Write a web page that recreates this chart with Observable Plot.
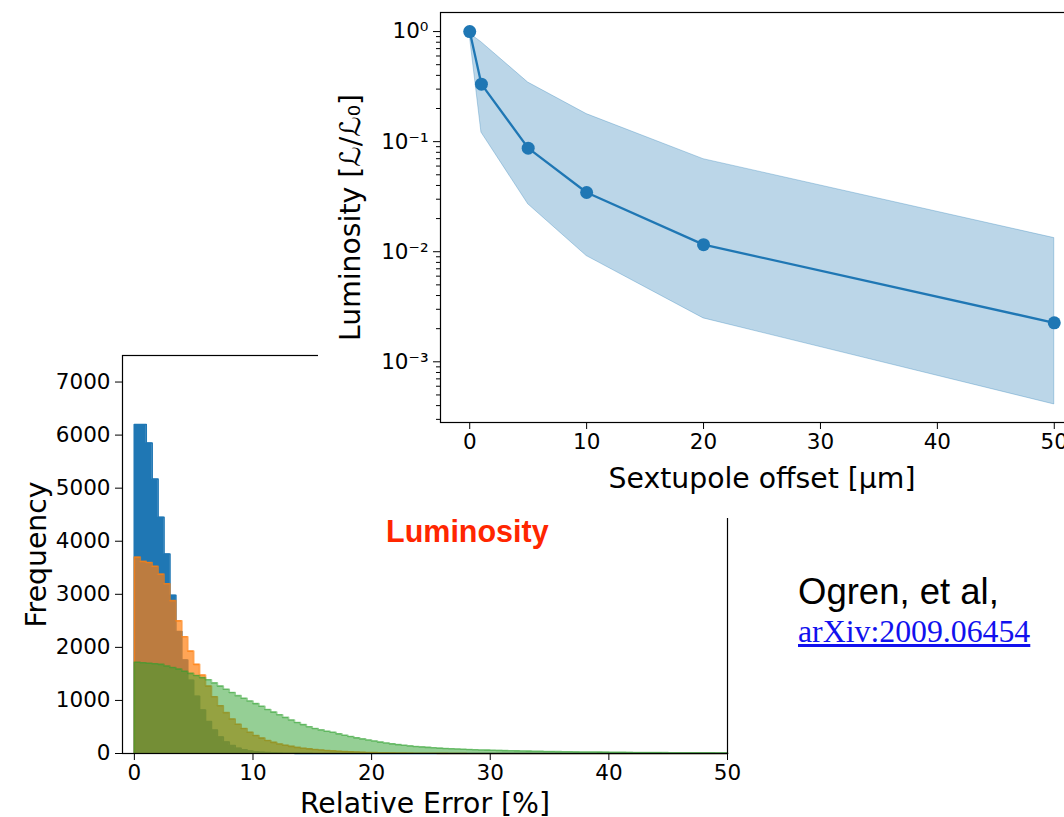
<!DOCTYPE html>
<html><head><meta charset="utf-8">
<script src="https://cdn.jsdelivr.net/npm/d3@7"></script>
<script src="https://cdn.jsdelivr.net/npm/@observablehq/plot@0.6"></script>
<style>
html,body{margin:0;padding:0;background:#fff;width:1064px;height:817px;overflow:hidden;}
#page{position:relative;width:1064px;height:817px;overflow:hidden;background:#fff;}
#hist{position:absolute;left:0;top:340px;z-index:1;}
#lumi{position:absolute;left:318px;top:0;z-index:2;}
.note{position:absolute;white-space:nowrap;line-height:1;z-index:3;}
#red{left:386px;top:514px;font:bold 30.5px "Liberation Sans",Arial,sans-serif;color:#ff2600;}
#ogren{left:798px;top:571px;font:36.5px "Liberation Sans",Arial,sans-serif;color:#000;}
#arxiv{left:798px;top:614px;font:31.8px "Liberation Serif","Times New Roman",serif;color:#1111ee;text-decoration:underline;}
svg{max-width:none !important;}
</style></head>
<body><div id="page">
<div id="hist"></div>
<div id="lumi"></div>
<div class="note" id="red">Luminosity</div>
<div class="note" id="ogren">Ogren, et al,</div>
<a class="note" id="arxiv" href="#">arXiv:2009.06454</a>
</div>
<script>
// ---------- Histogram data (relative error %, bin width 0.5) ----------
const binWidth = 0.5;
const blueCounts = [6200,6200,5850,5170,4450,3760,2980,2300,1760,1380,
 1080,820,600,440,310,215,150,100,70,48,
 33,23,16,11,8,6,4,3,2,2,
 1,1,1,1,0,0,0,0,0,0,
 0,0,0,0,0,0,0,0,0,0, 0,0,0,0,0,0,0,0,0,0, 0,0,0,0,0,0,0,0,0,0,
 0,0,0,0,0,0,0,0,0,0, 0,0,0,0,0,0,0,0,0,0, 0,0,0,0,0,0,0,0,0,0];
const orangeCounts = [3700,3620,3600,3530,3380,3200,2880,2500,2200,1930,
 1680,1480,1270,1070,900,770,650,550,470,400,
 340,290,245,210,180,155,135,115,100,88,
 76,66,57,49,42,36,31,27,23,20,
 17,15,13,11,9,8,7,6,5,4,
 4,3,3,2,2,2,1,1,1,1,
 1,1,1,1,0,0,0,0,0,0,
 0,0,0,0,0,0,0,0,0,0, 0,0,0,0,0,0,0,0,0,0, 0,0,0,0,0,0,0,0,0,0];
const greenCounts = [1720,1710,1700,1690,1680,1650,1620,1590,1550,1510,
 1470,1430,1390,1330,1270,1210,1150,1090,1040,990,
 940,890,830,780,730,680,630,585,545,505,
 470,445,420,400,370,345,320,295,275,255,
 235,215,197,182,168,155,143,133,124,116,
 108,101,95,89,84,79,75,71,67,64,
 61,58,55,52,50,47,45,43,41,39,
 37,35,33,32,30,29,28,27,26,25,
 24,23,22,21,20,19,18,18,17,16,
 15,15,14,14,13,13,12,12,11,11];
const histXTicks = [0,10,20,30,40,50];
const histYTicks = [0,1000,2000,3000,4000,5000,6000,7000];

// ---------- Luminosity vs sextupole offset ----------
const offsets = [0, 1, 5, 10, 20, 50];
const lumMean = [1.0, 0.333, 0.0873, 0.0345, 0.0116, 0.00226];
const lumLower = [0.93, 0.121, 0.027, 0.00914, 0.00248, 0.00041];
const lumUpper = [0.96, 0.80, 0.344, 0.178, 0.0693, 0.0133];
const lumXTicks = [0,10,20,30,40,50];
const lumYTicks = [0.001, 0.01, 0.1, 1];
const lumYTickLabels = ["10\u207B\u00B3","10\u207B\u00B2","10\u207B\u00B9","10\u2070"];

const C = {blue:"#1f77b4", orange:"#ff7f0e", green:"#2ca02c"};
const font = "DejaVu Sans, sans-serif";
const tickFont = 21.5, labelFont = 28.3;

function stairs(counts){
  const pts=[{x:0,y:0}];
  counts.forEach((c,i)=>pts.push({x:i*binWidth,y:c}));
  pts.push({x:counts.length*binWidth,y:counts[counts.length-1]});
  pts.push({x:counts.length*binWidth,y:0});
  return pts;
}
const series=[
  {pts:stairs(blueCounts), color:C.blue, op:1},
  {pts:stairs(orangeCounts), color:C.orange, op:0.7},
  {pts:stairs(greenCounts), color:C.green, op:0.5}
];
const histMarks=[];
for(const s of series){
  histMarks.push(Plot.areaY(s.pts,{x:"x",y:"y",curve:"step-after",fill:s.color,fillOpacity:s.op}));
  histMarks.push(Plot.line(s.pts,{x:"x",y:"y",curve:"step-after",stroke:s.color,strokeOpacity:s.op,strokeWidth:1.6}));
}
const hist=Plot.plot({
  width:740,height:477,marginLeft:122,marginRight:13,marginTop:15,marginBottom:64,
  x:{domain:[-1,50]}, y:{domain:[0,7500]},
  style:{fontFamily:font,fontSize:tickFont+"px",color:"#000",background:"transparent",overflow:"visible",maxWidth:"none"},
  marks:[
    ...histMarks,
    Plot.frame({stroke:"#000",strokeWidth:1.2}),
    Plot.axisX({ticks:histXTicks,tickSize:7,tickPadding:4,tickFormat:d3.format("d"),label:null,fontSize:tickFont}),
    Plot.axisY({ticks:histYTicks,tickSize:7,tickPadding:5,tickFormat:d3.format("d"),label:null,fontSize:tickFont}),
    Plot.text(["Frequency"],{text:d=>d,frameAnchor:"left",textAnchor:"middle",lineAnchor:"middle",dx:-86,rotate:-90,fontSize:labelFont}),
    Plot.text(["Relative Error [%]"],{text:d=>d,frameAnchor:"bottom",textAnchor:"middle",lineAnchor:"middle",dy:50.5,fontSize:labelFont})
  ]
});
document.getElementById("hist").append(hist);

const band=offsets.map((x,i)=>({x,lo:lumLower[i],hi:lumUpper[i],m:lumMean[i]}));
const minor=[];
for(const e of [-4,-3,-2,-1]) for(let k=2;k<=9;k++){const v=k*Math.pow(10,e); if(v>2.9e-4) minor.push(v);}
const lumi=Plot.plot({
  width:770,height:518,marginLeft:122,marginRight:5,marginTop:12,marginBottom:96,
  x:{domain:[-2.5,52.5]},
  y:{type:"log",domain:[2.81e-4,1.49]},
  style:{fontFamily:font,fontSize:tickFont+"px",color:"#000",background:"#fff",overflow:"hidden",maxWidth:"none"},
  marks:[
    Plot.areaY(band,{x:"x",y1:"lo",y2:"hi",fill:C.blue,fillOpacity:0.3,stroke:C.blue,strokeOpacity:0.3,strokeWidth:1}),
    Plot.line(band,{x:"x",y:"m",stroke:C.blue,strokeWidth:2.3}),
    Plot.dot(band,{x:"x",y:"m",r:6.5,fill:C.blue,stroke:"none"}),
    Plot.frame({stroke:"#000",strokeWidth:1.2}),
    Plot.axisX({ticks:lumXTicks,tickSize:7,tickPadding:4,tickFormat:d3.format("d"),label:null,fontSize:tickFont}),
    Plot.axisY({ticks:lumYTicks,tickSize:7,tickPadding:5,tickFormat:d=>lumYTickLabels[lumYTicks.indexOf(d)],label:null,fontSize:tickFont}),
    Plot.axisY({ticks:minor,tickSize:4,tickFormat:()=>"",label:null}),
    Plot.text(["Sextupole offset [\u03BCm]"],{text:d=>d,frameAnchor:"bottom",textAnchor:"middle",lineAnchor:"middle",dy:56,fontSize:labelFont}),
    Plot.text(["Luminosity [\u2112/\u2112\u2080]"],{text:d=>d,frameAnchor:"left",textAnchor:"middle",lineAnchor:"middle",dx:-90,rotate:-90,fontSize:labelFont})
  ]
});
document.getElementById("lumi").append(lumi);
</script>
</body></html>
